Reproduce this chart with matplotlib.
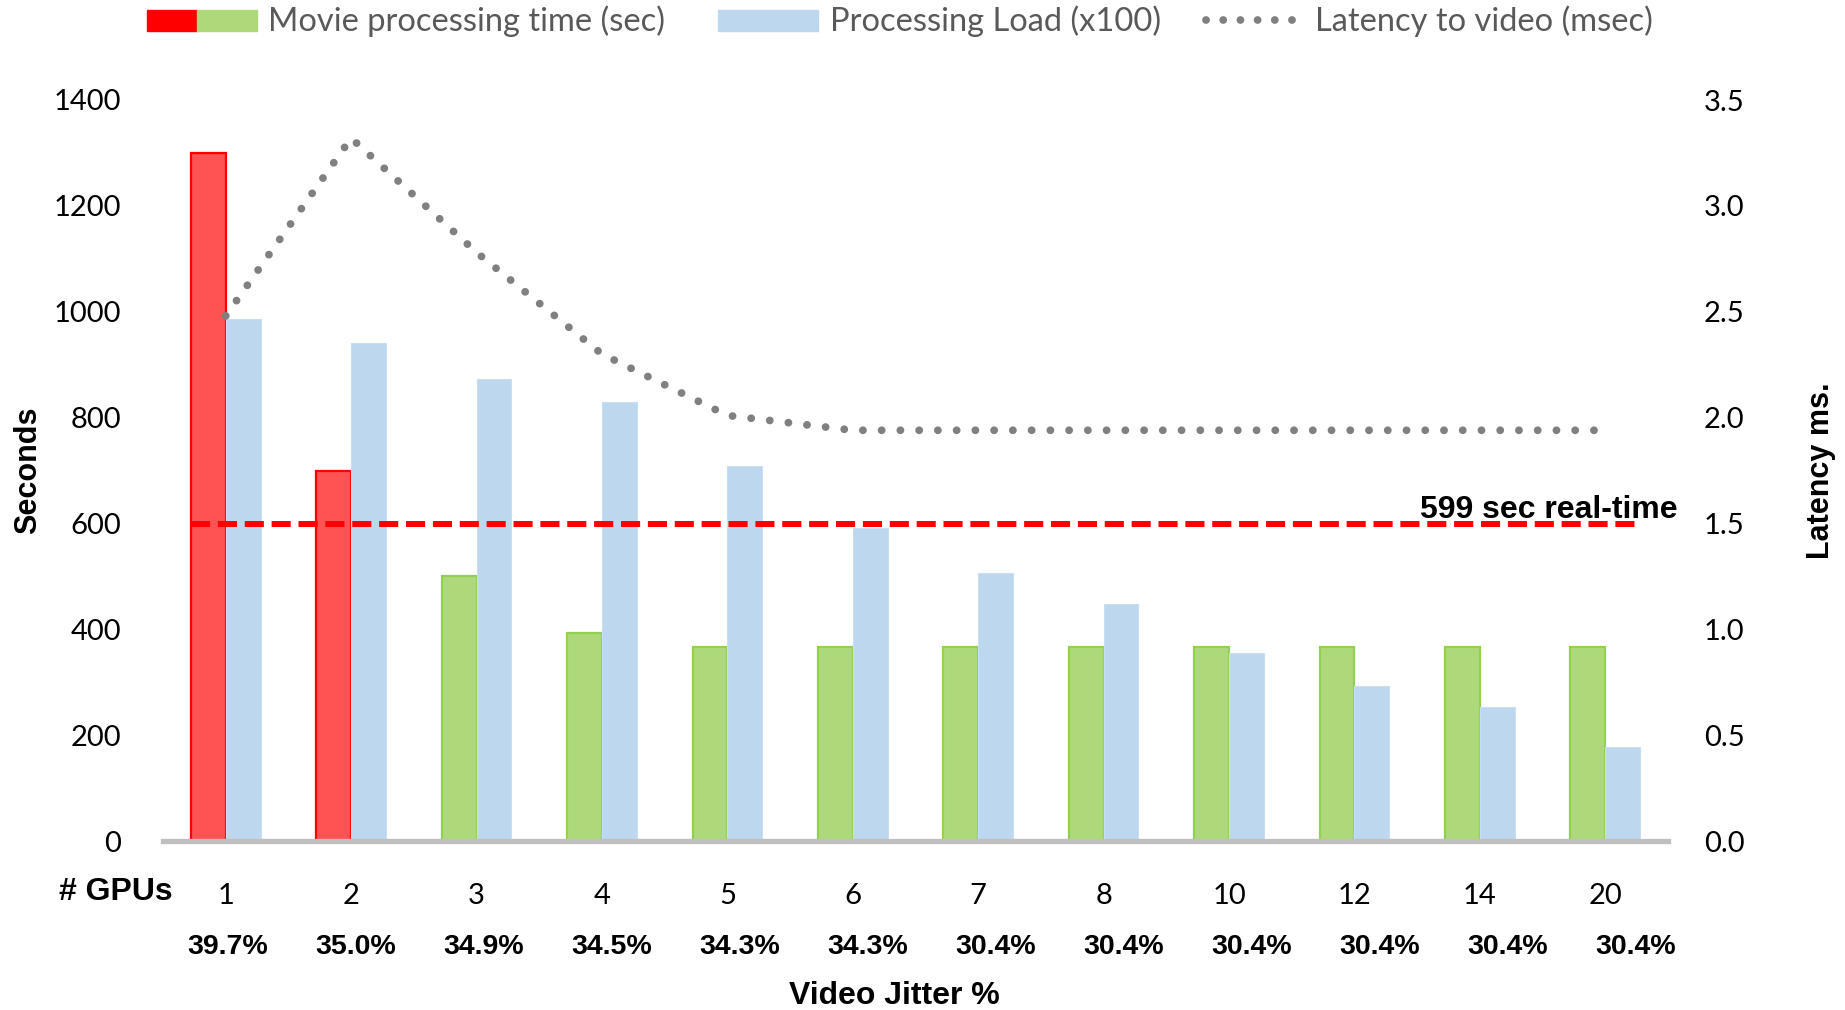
import numpy as np
import matplotlib.pyplot as plt
import matplotlib.patches as mpatches
from matplotlib.lines import Line2D

plt.rcParams['font.family'] = ['Lato', 'DejaVu Sans']

# data per GPU configuration
gpus = ['1', '2', '3', '4', '5', '6', '7', '8', '10', '12', '14', '20']
jitter = ['39.7%', '35.0%', '34.9%', '34.5%', '34.3%', '34.3%',
          '30.4%', '30.4%', '30.4%', '30.4%', '30.4%', '30.4%']
movie_time = [1300, 700, 500, 393, 367, 367, 367, 367, 367, 367, 367, 367]
load_x100 = [987, 940, 873, 829, 709, 591, 507, 447, 356, 293, 253, 178]
latency = [2.48, 3.32, 2.78, 2.30, 2.01, 1.94, 1.94, 1.94, 1.94, 1.94, 1.94, 1.94]
realtime_sec = 599

RED_FILL, RED_EDGE = '#FF5252', '#FF0000'
GREEN_FILL, GREEN_EDGE = '#AED97A', '#92D050'
BLUE = '#BDD7EE'
GREY_DOT = '#808080'
BOLD = ['Liberation Sans', 'DejaVu Sans']

W, H = 1845, 1010
fig = plt.figure(figsize=(W / 100, H / 100), dpi=100)
ax = fig.add_axes([163 / W, 1 - 841 / H, (1668 - 163) / W, (841 - 100) / H])

x = np.arange(len(gpus))
bw = 0.278

# bars slower than real-time are red, the rest green
too_slow = [t > realtime_sec for t in movie_time]
fills = [RED_FILL if s else GREEN_FILL for s in too_slow]
edges = [RED_EDGE if s else GREEN_EDGE for s in too_slow]
ax.bar(x - bw / 2, movie_time, bw, color=fills, edgecolor=edges, linewidth=1.6, zorder=2)
ax.bar(x + bw / 2, load_x100, bw, color=BLUE, edgecolor='#C9DEF1', linewidth=0.8, zorder=2)

# real-time threshold
ax.plot([x[0] - bw, x[-1] + bw], [realtime_sec, realtime_sec], color='#FF0000',
        linewidth=4.3, linestyle=(0, (3.2, 1.3)), dash_capstyle='butt', zorder=4)
ax.text(11.58, realtime_sec + 12, f'{realtime_sec} sec real-time', ha='right', va='baseline',
        fontsize=23, fontweight='bold', family=BOLD, zorder=5, clip_on=False)

ax.set_xlim(-0.5, len(gpus) - 0.5)
ax.set_ylim(0, 1400)
ax.set_yticks(range(0, 1401, 200))
ax.set_xticks(x)
ax.set_xticklabels(gpus)
ax.tick_params(axis='x', length=0, pad=30, labelsize=21)
ax.tick_params(axis='y', length=0, pad=30, labelsize=21)
for s in ['top', 'right', 'left']:
    ax.spines[s].set_visible(False)
ax.spines['bottom'].set_color('#BFBFBF')
ax.spines['bottom'].set_linewidth(3.8)
ax.spines['bottom'].set_zorder(3)

ax.set_ylabel('Seconds', fontsize=22, fontweight='bold', family=BOLD, labelpad=8)

# latency on secondary axis
ax2 = ax.twinx()
ax2.plot(x, latency, color=GREY_DOT, linewidth=5.6, linestyle=(0, (0.01, 2.4)),
         dash_capstyle='round', zorder=6)
ax2.set_ylim(0, 3.5)
ax2.set_yticks(np.arange(0, 3.51, 0.5))
ax2.set_yticklabels([f'{v:.1f}' for v in np.arange(0, 3.51, 0.5)])
ax2.tick_params(axis='y', length=0, pad=26, labelsize=21)
for s in ax2.spines.values():
    s.set_visible(False)
ax2.set_ylabel('Latency ms.', fontsize=22, fontweight='bold', family=BOLD, labelpad=44)

# row labels under the axis
fig.text(59 / W, 1 - 892 / H, '# GPUs', ha='left', va='center', fontsize=23,
         fontweight='bold', family=BOLD)
for i, j in enumerate(jitter):
    ax.text(i * 1.02 + 0.02, -0.143, j, transform=ax.get_xaxis_transform(), ha='center',
            va='center', fontsize=20.5, fontweight='bold', family=BOLD)
fig.text(894 / W, 1 - 996 / H, 'Video Jitter %', ha='center', va='center', fontsize=23,
         fontweight='bold', family=BOLD)

# legend row
def fx(px):
    return px / W


def fy(py):
    return 1 - py / H


sw_h = 21
fig.add_artist(mpatches.Rectangle((fx(147), fy(31)), 50 / W, sw_h / H, color='#FF0000',
                                  transform=fig.transFigure))
fig.add_artist(mpatches.Rectangle((fx(197), fy(31)), 60 / W, sw_h / H, color=GREEN_FILL,
                                  transform=fig.transFigure))
fig.add_artist(mpatches.Rectangle((fx(718), fy(31)), 100 / W, sw_h / H, color=BLUE,
                                  transform=fig.transFigure))
fig.add_artist(Line2D([fx(1206), fx(1296)], [fy(20), fy(20)], color=GREY_DOT, linewidth=5.6,
                      linestyle=(0, (0.01, 2.2)), dash_capstyle='round',
                      transform=fig.transFigure))
leg_kw = dict(ha='left', va='center', fontsize=23.5, color='#595959')
fig.text(fx(268), fy(21), 'Movie processing time (sec)', **leg_kw)
fig.text(fx(830), fy(21), 'Processing Load (x100)', **leg_kw)
fig.text(fx(1315), fy(21), 'Latency to video (msec)', **leg_kw)

fig.savefig('out.png', dpi=100)
